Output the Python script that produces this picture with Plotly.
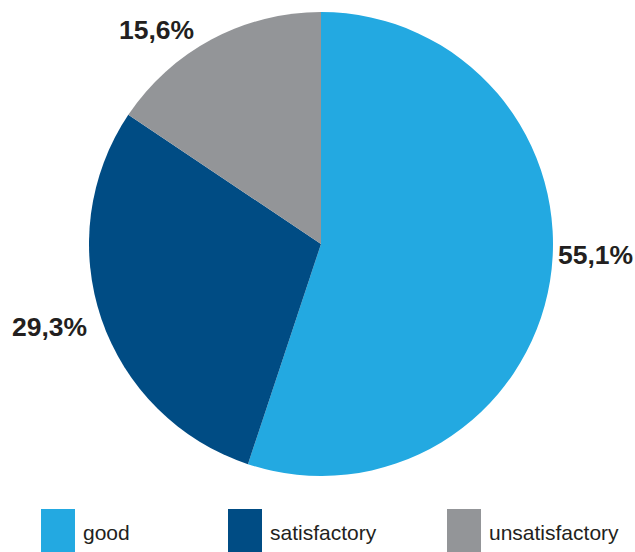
import math
import plotly.graph_objects as go

categories = ["good", "satisfactory", "unsatisfactory"]
values = [55.1, 29.3, 15.6]
colors = ["#23a9e1", "#004c84", "#939598"]

W, H = 635, 552
cx, cy, r = 321, 244, 232

text_labels = [f"{v:.1f}".replace(".", ",") + "%" for v in values]
# small pixel nudges for the outside labels (style, not data)
label_nudge = [(-1, 27), (-6, -5), (-13, 2)]

fig = go.Figure()
fig.add_trace(go.Pie(
    labels=categories,
    values=values,
    marker=dict(colors=colors, line=dict(width=0)),
    sort=False,
    direction="clockwise",
    rotation=0,
    textinfo="none",
    showlegend=False,
    hoverinfo="label+percent",
    domain=dict(x=[(cx - r) / W, (cx + r) / W], y=[(H - cy - r) / H, (H - cy + r) / H]),
))

shapes = []
annotations = []

# outside percentage labels placed at the slice mid-angle
total = sum(values)
cum = 0.0
for i, v in enumerate(values):
    mid = (cum + v / 2) / total * 2 * math.pi
    cum += v
    R = r + 8
    px = cx + R * math.sin(mid)
    py = cy - R * math.cos(mid)
    annotations.append(dict(
        xref="paper", yref="paper", x=px / W, y=1 - py / H,
        xanchor="left" if math.sin(mid) > 0 else "right", yanchor="middle",
        xshift=label_nudge[i][0], yshift=label_nudge[i][1],
        borderpad=0,
        showarrow=False, text=f"<b>{text_labels[i]}</b>",
        font=dict(family="Liberation Sans, Arial", size=26.5, color="#231f20")))

# custom legend
legend_x = [41, 228, 447]
for i, cat in enumerate(categories):
    x0 = legend_x[i]
    shapes.append(dict(type="rect", xref="paper", yref="paper",
                       x0=x0 / W, x1=(x0 + 34) / W, y0=0, y1=(H - 509) / H,
                       fillcolor=colors[i], line=dict(width=0)))
    annotations.append(dict(xref="paper", yref="paper", x=(x0 + 40) / W, y=(H - 532) / H,
                            xanchor="left", yanchor="middle", showarrow=False, text=cat,
                            font=dict(family="Liberation Sans, Arial", size=21, color="#231f20")))

fig.update_layout(
    width=W, height=H,
    margin=dict(l=0, r=0, t=0, b=0),
    paper_bgcolor="white", plot_bgcolor="white",
    shapes=shapes, annotations=annotations,
)

fig.write_html("out.html")
